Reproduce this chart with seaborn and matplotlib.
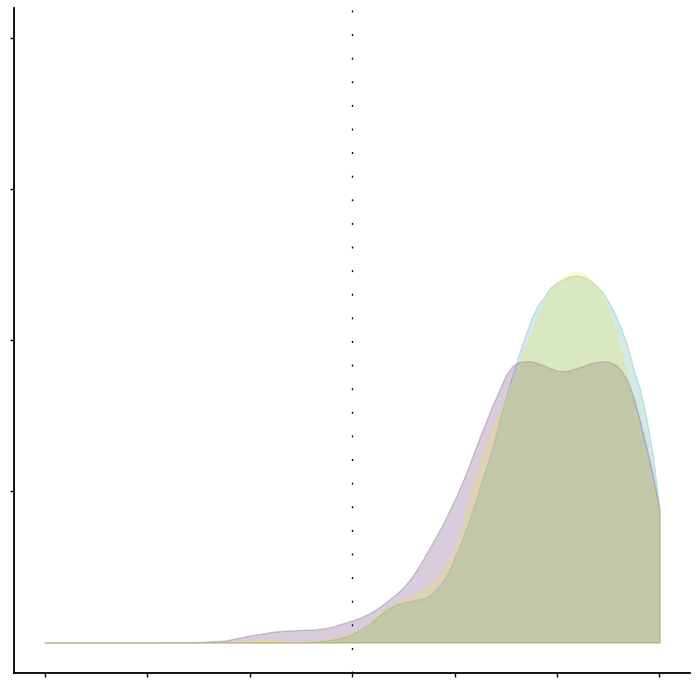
import pandas as pd
import seaborn as sns
import matplotlib.pyplot as plt

# density curves, one per group, on a shared grid
x_grid = [0, 0.5, 1.0, 1.5, 1.75, 2.0, 2.125, 2.25, 2.375, 2.5, 2.625,
          2.75, 2.8125, 2.875, 2.9375, 3.0, 3.0625, 3.125, 3.1875, 3.25, 3.3125,
          3.375, 3.4375, 3.5, 3.5625, 3.625, 3.6875, 3.75, 3.8125, 3.875, 3.9375,
          4.0, 4.0625, 4.125, 4.1875, 4.25, 4.3125, 4.375, 4.4375, 4.5, 4.5625,
          4.625, 4.6875, 4.75, 4.8125, 4.875, 4.9375, 5.0, 5.0625, 5.125, 5.1875,
          5.25, 5.3125, 5.375, 5.4375, 5.5, 5.5625, 5.625, 5.6875, 5.75, 5.8125,
          5.875, 5.9375, 6.0]

dens_purple = [0, 0, 0, 0.003, 0.012, 0.046, 0.059, 0.073, 0.079, 0.083, 0.086,
               0.096, 0.106, 0.12, 0.132, 0.145, 0.16, 0.178, 0.2, 0.226, 0.256,
               0.29, 0.325, 0.365, 0.416, 0.475, 0.545, 0.618, 0.693, 0.77, 0.855,
               0.944, 1.038, 1.142, 1.254, 1.366, 1.472, 1.578, 1.67, 1.769, 1.828,
               1.855, 1.861, 1.861, 1.848, 1.832, 1.815, 1.799, 1.795, 1.802, 1.815,
               1.828, 1.845, 1.855, 1.861, 1.858, 1.842, 1.802, 1.736, 1.617, 1.459,
               1.285, 1.1, 0.878]

dens_teal = [0, 0, 0, 0, 0, 0, 0, 0, 0, 0, 0.005,
             0.013, 0.02, 0.026, 0.04, 0.056, 0.079, 0.106, 0.132, 0.172, 0.205,
             0.234, 0.254, 0.264, 0.274, 0.281, 0.29, 0.307, 0.343, 0.396, 0.462,
             0.561, 0.66, 0.772, 0.898, 1.03, 1.168, 1.30, 1.47, 1.624, 1.769,
             1.901, 2.026, 2.145, 2.231, 2.29, 2.35, 2.383, 2.403, 2.422, 2.429,
             2.422, 2.399, 2.366, 2.323, 2.257, 2.178, 2.079, 1.96, 1.802, 1.67,
             1.472, 1.234, 0.878]

dens_yellow = [0, 0, 0, 0, 0.003, 0.013, 0.02, 0.017, 0.01, 0.007, 0.01,
               0.023, 0.033, 0.04, 0.053, 0.073, 0.086, 0.105, 0.145, 0.185, 0.213,
               0.244, 0.272, 0.29, 0.304, 0.323, 0.35, 0.378, 0.42, 0.47, 0.535,
               0.627, 0.746, 0.911, 1.063, 1.195, 1.32, 1.432, 1.52, 1.617, 1.729,
               1.835, 1.934, 2.04, 2.152, 2.251, 2.317, 2.376, 2.422, 2.442, 2.449,
               2.442, 2.413, 2.363, 2.29, 2.191, 2.053, 1.908, 1.749, 1.578, 1.393,
               1.208, 1.03, 0.865]

groups = ['a', 'b', 'c']
colours = ['#440154', '#21918c', '#fde725']

df = pd.DataFrame({'x': x_grid, 'a': dens_purple, 'b': dens_teal, 'c': dens_yellow})

sns.set_style('ticks')
fig, ax = plt.subplots(figsize=(7, 7), dpi=100)
fig.subplots_adjust(left=0.02, right=0.986, bottom=0.039, top=0.989)

# overlapping translucent areas, drawn in group order
for g, col in zip(groups, colours):
    ax.fill_between(df['x'], df[g], color=col, alpha=0.2, linewidth=1)

# reference line in the middle
ax.axvline(3, color='black', linewidth=1, linestyle=(0, (1.4, 15.6)))

ax.set_xlim(-0.3, 6.3)
ax.set_ylim(-0.2, 4.2)
ax.set_xticks(range(7))
ax.set_yticks([1, 2, 3, 4])
ax.set_xticklabels([])
ax.set_yticklabels([])
ax.tick_params(length=3, width=1, color='black')
ax.set_xlabel('')
ax.set_ylabel('')
for s in ['left', 'bottom']:
    ax.spines[s].set_color('black')
    ax.spines[s].set_linewidth(1.3)
sns.despine(ax=ax)

plt.savefig('out.png', dpi=100)
